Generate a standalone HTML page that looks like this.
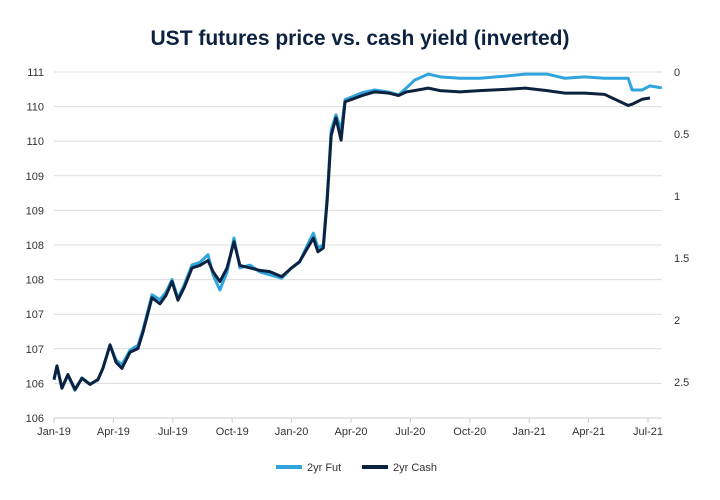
<!DOCTYPE html>
<html><head><meta charset="utf-8"><style>
body{margin:0;background:#fff;font-family:"Liberation Sans",sans-serif;}
svg{display:block}
</style></head><body>
<svg id="chart" width="720" height="500">
<text x="360" y="45" text-anchor="middle" font-size="21" font-weight="bold" fill="#0d2240">UST futures price vs. cash yield (inverted)</text>
<g id="grid"></g><g id="series"></g><g id="axes"></g>
<g>
<line x1="276" y1="467" x2="302" y2="467" stroke="#2fa4dd" stroke-width="4"/>
<text x="307" y="471" font-size="11" fill="#333">2yr Fut</text>
<line x1="362" y1="467" x2="388" y2="467" stroke="#0d2240" stroke-width="4"/>
<text x="393" y="471" font-size="11" fill="#333">2yr Cash</text>
</g>
</svg>
<script>
const xTickLabels=["Jan-19","Apr-19","Jul-19","Oct-19","Jan-20","Apr-20","Jul-20","Oct-20","Jan-21","Apr-21","Jul-21"];
const leftTicks=[106,106.5,107,107.5,108,108.5,109,109.5,110,110.5,111];
const leftTickLabels=["106","106","107","107","108","108","109","109","110","110","111"];
const rightTicks=[0,0.5,1,1.5,2,2.5];
const months=[0,0.15,0.4,0.7,1.06,1.41,1.82,2.22,2.47,2.83,3.13,3.43,3.84,4.24,4.49,4.95,5.35,5.66,5.96,6.26,6.57,6.97,7.37,7.78,8.03,8.38,8.74,9.09,9.39,9.9,10.4,10.9,11.5,12.0,12.4,12.8,13.1,13.33,13.6,13.8,14.0,14.24,14.5,14.7,15.05,15.56,16.2,16.9,17.4,17.8,18.2,18.9,19.5,20.5,21.5,22.8,23.8,24.9,25.8,26.8,27.8,29.0,29.2,29.7,30.1,30.7];
const futPrice=[106.55,106.75,106.43,106.62,106.40,106.58,106.49,106.55,106.72,107.05,106.84,106.77,106.98,107.05,107.27,107.78,107.71,107.82,108.0,107.73,107.92,108.21,108.25,108.36,108.07,107.85,108.11,108.60,108.17,108.21,108.11,108.07,108.02,108.17,108.25,108.50,108.67,108.46,108.50,109.22,110.16,110.38,110.16,110.60,110.64,110.70,110.74,110.71,110.67,110.77,110.88,110.97,110.93,110.91,110.91,110.94,110.97,110.97,110.91,110.93,110.91,110.91,110.74,110.74,110.80,110.77];
const cashYield=[2.48,2.37,2.55,2.44,2.56,2.47,2.52,2.48,2.39,2.20,2.34,2.39,2.26,2.23,2.10,1.82,1.87,1.80,1.69,1.84,1.74,1.58,1.56,1.52,1.61,1.69,1.58,1.37,1.56,1.58,1.60,1.61,1.65,1.58,1.53,1.42,1.34,1.45,1.42,1.03,0.51,0.37,0.55,0.24,0.22,0.19,0.16,0.17,0.19,0.16,0.15,0.13,0.15,0.16,0.15,0.14,0.13,0.15,0.17,0.17,0.18,0.27,0.26,0.22,0.21];
const NS="http://www.w3.org/2000/svg";
const X0=54,X1=662,YT=72,YB=418;
const xS=m=>X0+m*19.8;
const yL=v=>YB-(v-106)/5*(YB-YT);
const yR=v=>YT+v/2.5*310;
function mk(tag,attrs,parent){const e=document.createElementNS(NS,tag);for(const k in attrs)e.setAttribute(k,attrs[k]);parent.appendChild(e);return e;}
const grid=document.getElementById('grid'),axes=document.getElementById('axes'),series=document.getElementById('series');
leftTicks.forEach((t,i)=>{
 const l=mk('line',{x1:X0,x2:X1,y1:yL(t),y2:yL(t),stroke:'#dcdcdc','stroke-width':1},grid);
 
 
 const tx=mk('text',{x:44,y:yL(t)+4,'text-anchor':'end','font-size':11,fill:'#333'},axes);
 tx.textContent=leftTickLabels[i];
 
 
});
rightTicks.forEach(t=>{
 const tx=mk('text',{x:674,y:yR(t)+4,'font-size':11,fill:'#333'},axes);
 tx.textContent=String(t);
 
 
});
mk('line',{x1:X0,x2:X1,y1:YB,y2:YB,stroke:'#ccc'},axes);
xTickLabels.forEach((s,i)=>{
 const x=xS(i*3);
 const tk=mk('line',{x1:x,x2:x,y1:YB,y2:YB+5,stroke:'#ccc'},axes);
 
 
 const tx=mk('text',{x:x,y:YB+17,'text-anchor':'middle','font-size':11,fill:'#333'},axes);
 tx.textContent=s;
 
 
});
const pf=mk('polyline',{points:months.map((m,i)=>xS(m)+','+yL(futPrice[i])).join(' '),fill:'none',stroke:'#2fa4dd','stroke-width':3,'stroke-linejoin':'round'},series);


const pc=mk('polyline',{points:months.map((m,i)=>xS(m)+','+yR(cashYield[i])).join(' '),fill:'none',stroke:'#0d2240','stroke-width':3,'stroke-linejoin':'round'},series);


</script>
</body></html>
